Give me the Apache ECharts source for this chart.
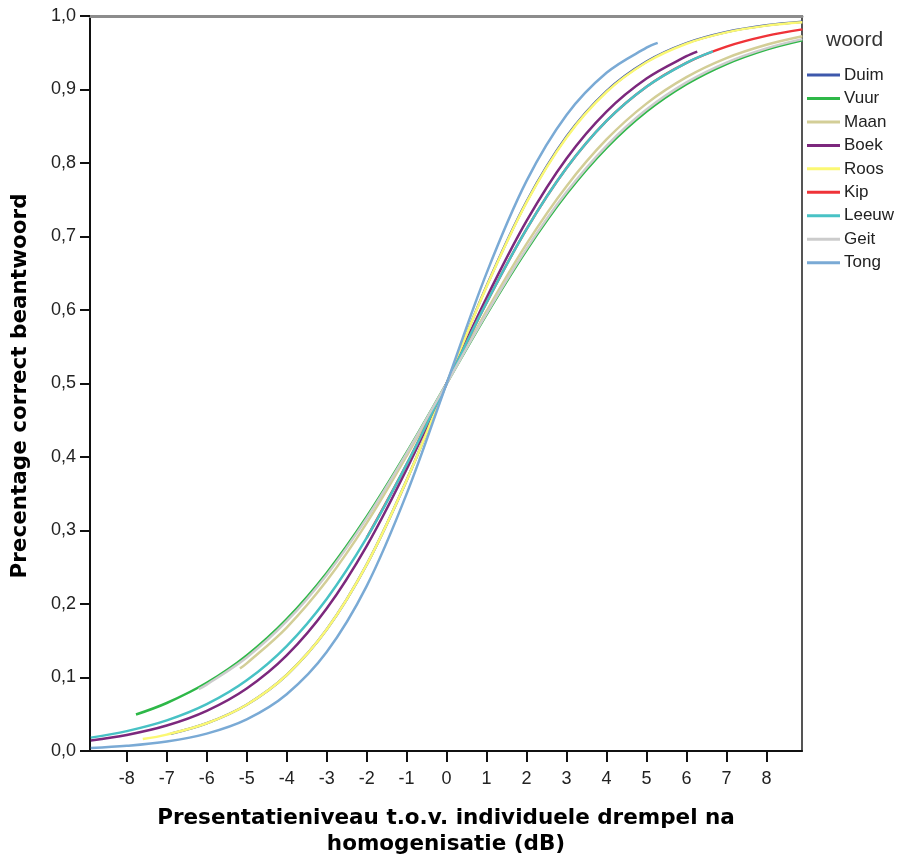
<!DOCTYPE html>
<html>
<head>
<meta charset="utf-8">
<script src="https://cdn.jsdelivr.net/npm/echarts@6/dist/echarts.min.js"></script>
<style>
html,body{margin:0;padding:0;background:#fff;}
#chart{width:907px;height:862px;}
</style>
</head>
<body>
<div id="chart"></div>
<script>
// ---- data ----
const seriesNames = ['Duim','Vuur','Maan','Boek','Roos','Kip','Leeuw','Geit','Tong'];
const seriesColors = ['#3e58ac','#2eb848','#d3ce97','#7c287d','#fbf873','#ef3338','#48c2c5','#cccccc','#7aaad5'];

const duimX = [-6.9,-6,-5,-4,-3,-2,-1,0,1,2,3,4,5,6,7,8,8.9];
const duimY = [0.0235,0.0377,0.0630,0.1034,0.1652,0.2535,0.3682,0.5,0.6325,0.7475,0.8360,0.8978,0.9380,0.9631,0.9783,0.9874,0.9922];

const vuurX = [-7.77,-7,-6,-5,-4,-3,-2,-1,0,1,2,3,4,5,6,7,8,8.9];
const vuurY = [0.0496,0.0653,0.0928,0.1301,0.1795,0.2423,0.3187,0.4061,0.5,0.5939,0.6813,0.7577,0.8205,0.8699,0.9072,0.9347,0.9544,0.9671];

const maanX = [-5.17,-5,-4,-3,-2,-1,0,1,2,3,4,5,6,7,8,8.9];
const maanY = [0.1122,0.1192,0.1680,0.2315,0.3100,0.4013,0.5,0.5987,0.6900,0.7685,0.8320,0.8808,0.9168,0.9427,0.9608,0.9724];

const boekX = [-8.9,-8,-7,-6,-5,-4,-3,-2,-1,0,1,2,3,4,5,6,6.27];
const boekY = [0.0144,0.0219,0.0347,0.0547,0.0851,0.1301,0.1939,0.2789,0.3834,0.5,0.6166,0.7211,0.8061,0.8699,0.9149,0.9453,0.9516];

const roosX = [-7.6,-7,-6,-5,-4,-3,-2,-1,0,1,2,3,4,5,6,7,8,8.9];
const roosY = [0.0162,0.0223,0.0377,0.0630,0.1034,0.1652,0.2535,0.3682,0.5,0.6318,0.7465,0.8348,0.8966,0.9370,0.9623,0.9777,0.9869,0.9915];

const kipX = [-2,-1,0,1,2,3,4,5,6,7,8,8.9];
const kipY = [0.2899,0.3899,0.5,0.6101,0.7101,0.7931,0.8572,0.9038,0.9363,0.9584,0.9730,0.9818];

const leeuwX = [-8.9,-8,-7,-6,-5,-4,-3,-2,-1,0,1,2,3,4,5,6,6.66];
const leeuwY = [0.0182,0.0270,0.0416,0.0637,0.0962,0.1428,0.2069,0.2899,0.3899,0.5,0.6101,0.7101,0.7931,0.8572,0.9038,0.9363,0.9518];

const geitX = [-6.2,-6,-5,-4,-3,-2,-1,0,1,2,3,4,5,6,7,8,8.9];
const geitY = [0.0842,0.0903,0.1273,0.1766,0.2396,0.3165,0.4049,0.5,0.5951,0.6835,0.7604,0.8234,0.8727,0.9097,0.9367,0.9560,0.9685];

const tongX = [-8.9,-8,-7,-6,-5,-4,-3,-2,-1,0,1,2,3,4,5,5.28];
const tongY = [0.0040,0.0070,0.0129,0.0237,0.0431,0.0773,0.1347,0.2244,0.3498,0.5,0.6502,0.7756,0.8653,0.9227,0.9569,0.9635];

const xTickValues = [-8,-7,-6,-5,-4,-3,-2,-1,0,1,2,3,4,5,6,7,8];
const xMin = -8.92, xMax = 8.89;

const xTitle = 'Presentatieniveau t.o.v. individuele drempel na\nhomogenisatie (dB)';
const yTitle = 'Precentage correct beantwoord';
const legendTitle = 'woord';
// -------------------------------------

const allX = [duimX,vuurX,maanX,boekX,roosX,kipX,leeuwX,geitX,tongX];
const allY = [duimY,vuurY,maanY,boekY,roosY,kipY,leeuwY,geitY,tongY];

function pairs(xs, ys){ return xs.map((x,i)=>[x, ys[i]]); }

const chart = echarts.init(document.getElementById('chart'), null, {renderer:'canvas'});

const series = seriesNames.map((n,i)=>({
  name: n,
  type: 'line',
  xAxisIndex: 0, yAxisIndex: 0,
  data: pairs(allX[i], allY[i]),
  showSymbol: false,
  symbol: 'none',
  smooth: 0.35,
  lineStyle: {width: 2.5, color: seriesColors[i]},
  itemStyle: {color: seriesColors[i]},
  silent: true,
  z: 2 + i
}));

const option = {
  animation: false,
  backgroundColor: '#ffffff',
  title: {
    text: legendTitle,
    left: 826, top: 30,
    padding: 0,
    textStyle: {fontFamily: 'Liberation Sans, Arial, sans-serif', fontSize: 21, fontWeight: 'normal', color: '#333'}
  },
  legend: {
    orient: 'vertical',
    left: 807, top: 65,
    padding: 0,
    itemWidth: 33, itemHeight: 3,
    itemGap: 3.46,
    icon: 'rect',
    data: seriesNames,
    textStyle: {fontFamily: 'Liberation Sans, Arial, sans-serif', fontSize: 17, color: '#222', lineHeight: 20, padding: [0,0,0,-1]},
    selectedMode: false
  },
  grid: {left: 90, right: 105, top: 16, bottom: 108, containLabel: false},
  xAxis: [{
    type: 'value',
    min: xMin, max: xMax,
    position: 'bottom',
    name: xTitle,
    nameLocation: 'middle',
    nameGap: 54,
    nameTextStyle: {fontFamily: 'DejaVu Sans, Verdana, sans-serif', fontWeight: 'bold', fontSize: 21.5, color: '#000', lineHeight: 26, align: 'center'},
    axisLine: {show: true, onZero: false, lineStyle: {color: '#111', width: 2}},
    axisTick: {show: true, length: 11, customValues: xTickValues, lineStyle: {color: '#111', width: 2}},
    axisLabel: {show: true, customValues: xTickValues, margin: 19, fontFamily: 'Liberation Sans, Arial, sans-serif', fontSize: 18, color: '#222',
      formatter: v => String(v).replace('.', ',')},
    splitLine: {show: false}
  },{
    type: 'value',
    min: xMin, max: xMax,
    position: 'top',
    axisLine: {show: true, onZero: false, lineStyle: {color: '#8c8c8c', width: 3}},
    axisTick: {show: false}, axisLabel: {show: false}, splitLine: {show: false}
  }],
  yAxis: [{
    type: 'value',
    min: 0, max: 1, interval: 0.1,
    position: 'left',
    axisLine: {show: true, onZero: false, lineStyle: {color: '#111', width: 2}},
    axisTick: {show: true, length: 10, lineStyle: {color: '#111', width: 2}},
    axisLabel: {margin: 14, fontFamily: 'Liberation Sans, Arial, sans-serif', fontSize: 18, color: '#222',
      formatter: v => v.toFixed(1).replace('.', ',')},
    splitLine: {show: false}
  },{
    type: 'value',
    min: 0, max: 1, interval: 0.1,
    position: 'right',
    axisLine: {show: true, onZero: false, lineStyle: {color: '#555', width: 2}},
    axisTick: {show: false}, axisLabel: {show: false}, splitLine: {show: false}
  }],
  graphic: [{
    type: 'text',
    x: 20, y: 386,
    rotation: Math.PI / 2,
    style: {
      text: yTitle,
      align: 'center', verticalAlign: 'middle',
      font: 'bold 21.5px "DejaVu Sans", Verdana, sans-serif',
      fill: '#000'
    }
  }],
  series: series
};

chart.setOption(option);
</script>
</body>
</html>
